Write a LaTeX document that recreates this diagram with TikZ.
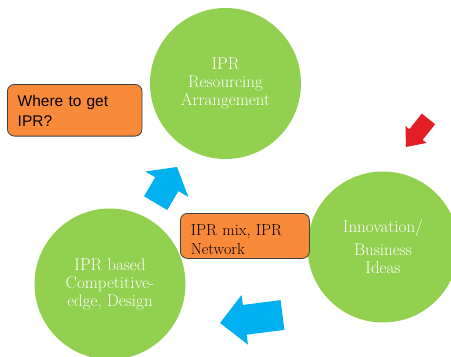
\documentclass[tikz,border=0pt]{standalone}
\usepackage{fontspec}
\newfontfamily\boxsans{Liberation Sans}
\definecolor{leafgreen}{RGB}{146,208,80}
\definecolor{boxorange}{RGB}{248,138,58}
\definecolor{skyblue}{RGB}{0,176,240}
\definecolor{alertred}{RGB}{228,30,37}
% block arrow: colour, tip, angle, length, head length, head width, shaft width
\newcommand{\blockarrow}[7]{%
  \fill[#1,shift={#2},rotate=#3] (0,0) -- (-#5,#6/2) -- (-#5,#7/2) -- (-#4,#7/2)
    -- (-#4,-#7/2) -- (-#5,-#7/2) -- (-#5,-#6/2) -- cycle;}
\tikzset{
  bubble/.style={circle,fill=leafgreen,minimum size=151pt,inner sep=0pt,text=white,
    align=center,font=\fontsize{17}{18}\selectfont},
  notebox/.style={draw=black!75,line width=0.8pt,fill=boxorange,rounded corners=7pt,
    anchor=north west,inner ysep=4pt,align=left}
}
\begin{document}
\begin{tikzpicture}[x=1pt,y=-1pt,line join=round]
  \useasboundingbox (0,0) rectangle (451,357);
  \fill[white] (0,0) rectangle (451,357);
  \clip (0,0) rectangle (451,357);
  % the three stages
  \node[bubble] (resourcing) at (225.5,83.5) {IPR\\Resourcing\\Arrangement};
  \node[bubble] (innovation) at (383,247) {Innovation/\\[5pt]Business\\Ideas};
  \node[bubble] (competitive) at (110,284) {IPR based\\Competitive-\\edge, Design};
  % notes
  \node[notebox,inner xsep=10.3pt,text width=114pt,text height=18pt,text depth=25.7pt,
    font=\boxsans\fontsize{15.5}{19.7}\selectfont] (whereget) at (7,84) {Where to get\\IPR?};
  \node[notebox,inner xsep=10.5pt,text width=108pt,text height=18pt,text depth=19pt,
    font=\fontsize{16}{19}\selectfont] (iprmix) at (180,213) {IPR mix, IPR\\Network};
  % cycle arrows
  \blockarrow{skyblue}{(177,167)}{59.4}{42}{20}{50}{27}
  \blockarrow{skyblue}{(220,323)}{187.3}{63}{25}{50}{30}
  \blockarrow{alertred}{(406,147)}{231.3}{36}{16}{27}{17}
\end{tikzpicture}
\end{document}
